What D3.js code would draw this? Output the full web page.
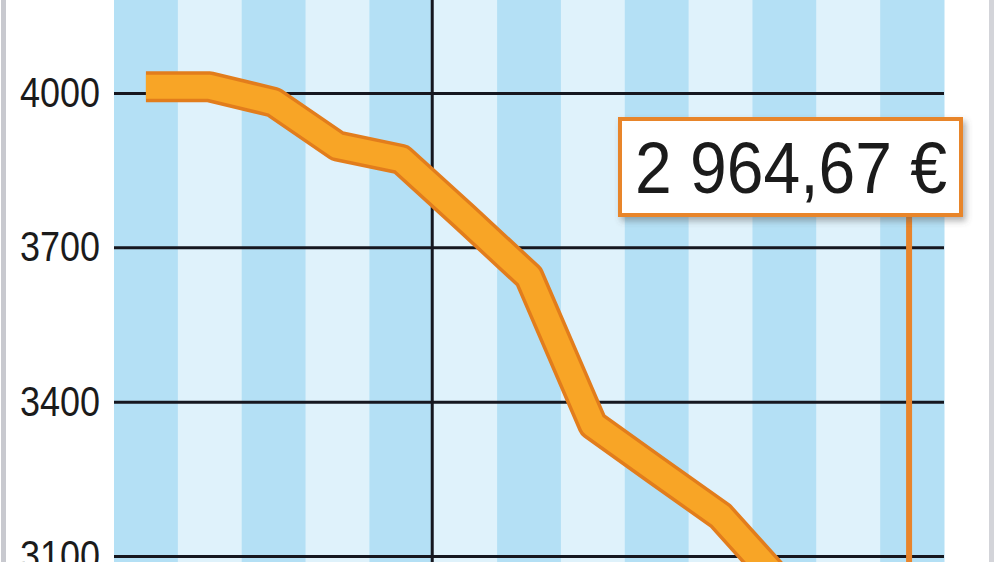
<!DOCTYPE html>
<html>
<head>
<meta charset="utf-8">
<script src="https://cdn.jsdelivr.net/npm/d3@7"></script>
<style>
  body { margin: 0; background: #fff; overflow: hidden; }
  svg { display: block; }
</style>
</head>
<body>
<svg></svg>
<script>
const width = 1000
const height = 562

// data
const periods = ['p1', 'p2', 'p3', 'p4', 'p5', 'p6', 'p7', 'p8', 'p9', 'p10', 'p11', 'p12', 'p13']
const prices = [4012, 4012, 3982, 3897, 3871, 3758, 3643, 3355, 3266, 3178, 3040, 2990, 2964.67]
const yTicks = [4000, 3700, 3400, 3100]
const lastLabel = '2 964,67 €'
const splitPeriod = 'p6'

const plotLeft = 114
const plotRight = 944

const x = d3.scaleBand().domain(periods).range([plotLeft, plotRight])
const y = d3.scaleLinear().domain([3100, 4000]).range([556, 93])
const cx = (p) => x(p) + x.bandwidth() / 2

const svg = d3.select('svg').attr('width', width).attr('height', height)

// drop shadow for the value box
const defs = svg.append('defs')
const shadow = defs.append('filter').attr('id', 'shadow')
  .attr('x', '-10%').attr('y', '-10%').attr('width', '130%').attr('height', '140%')
shadow.append('feDropShadow')
  .attr('dx', 3).attr('dy', 4).attr('stdDeviation', 3)
  .attr('flood-color', '#555').attr('flood-opacity', 0.45)

// grey frame lines
svg.append('rect').attr('x', 1).attr('y', 0).attr('width', 5).attr('height', height).attr('fill', '#c8c9cf')
svg.append('rect').attr('x', 989).attr('y', 0).attr('width', 5).attr('height', height).attr('fill', '#d3d4d9')

// striped columns
svg.append('g').selectAll('rect').data(periods).enter().append('rect')
  .attr('x', (d) => x(d))
  .attr('y', 0)
  .attr('width', x.bandwidth() + 0.5)
  .attr('height', height)
  .attr('fill', (d, i) => i % 2 === 0 ? '#b4e0f5' : '#dff2fb')

// horizontal grid + labels
const yAxis = d3.axisLeft(y)
  .tickValues(yTicks)
  .tickFormat(d3.format('d'))
  .tickSize(-(plotRight - plotLeft))
  .tickPadding(14)

const gy = svg.append('g')
  .attr('transform', `translate(${plotLeft},0)`)
  .call(yAxis)
gy.select('.domain').remove()
gy.selectAll('.tick line').attr('stroke', '#16171f').attr('stroke-width', 3)
gy.selectAll('.tick text')
  .attr('fill', '#1b1b1b')
  .style('font-family', '"Liberation Sans Narrow", "Liberation Sans", sans-serif')
  .style('font-size', '42px')
  .attr('textLength', 80)
  .attr('lengthAdjust', 'spacingAndGlyphs')

// vertical separator
svg.append('line')
  .attr('x1', x(splitPeriod) - 1).attr('x2', x(splitPeriod) - 1)
  .attr('y1', 0).attr('y2', height)
  .attr('stroke', '#16171f').attr('stroke-width', 3)

// price line
const line = d3.line()
  .x((d, i) => cx(periods[i]))
  .y((d) => y(d))

svg.append('path').datum(prices)
  .attr('d', line)
  .attr('fill', 'none')
  .attr('stroke', '#e27d1c')
  .attr('stroke-width', 31)
  .attr('stroke-linejoin', 'round')

svg.append('path').datum(prices)
  .attr('d', line)
  .attr('fill', 'none')
  .attr('stroke', '#f8a526')
  .attr('stroke-width', 24)
  .attr('stroke-linejoin', 'round')

// value callout for the last point
const lastX = cx(periods[periods.length - 1])
const lastY = y(prices[prices.length - 1])

svg.append('line')
  .attr('x1', lastX - 3).attr('x2', lastX - 3)
  .attr('y1', 214).attr('y2', lastY)
  .attr('stroke', '#e8852c').attr('stroke-width', 6)

svg.append('rect')
  .attr('x', 620).attr('y', 119)
  .attr('width', 341).attr('height', 96)
  .attr('fill', '#fff')
  .attr('stroke', '#e8852c')
  .attr('stroke-width', 4)
  .attr('filter', 'url(#shadow)')

svg.append('text')
  .attr('x', 635).attr('y', 193)
  .attr('fill', '#1b1b1b')
  .style('font-family', '"Liberation Sans Narrow", "Liberation Sans", sans-serif')
  .style('font-size', '72px')
  .attr('textLength', 312)
  .attr('lengthAdjust', 'spacingAndGlyphs')
  .text(lastLabel)
</script>
</body>
</html>
